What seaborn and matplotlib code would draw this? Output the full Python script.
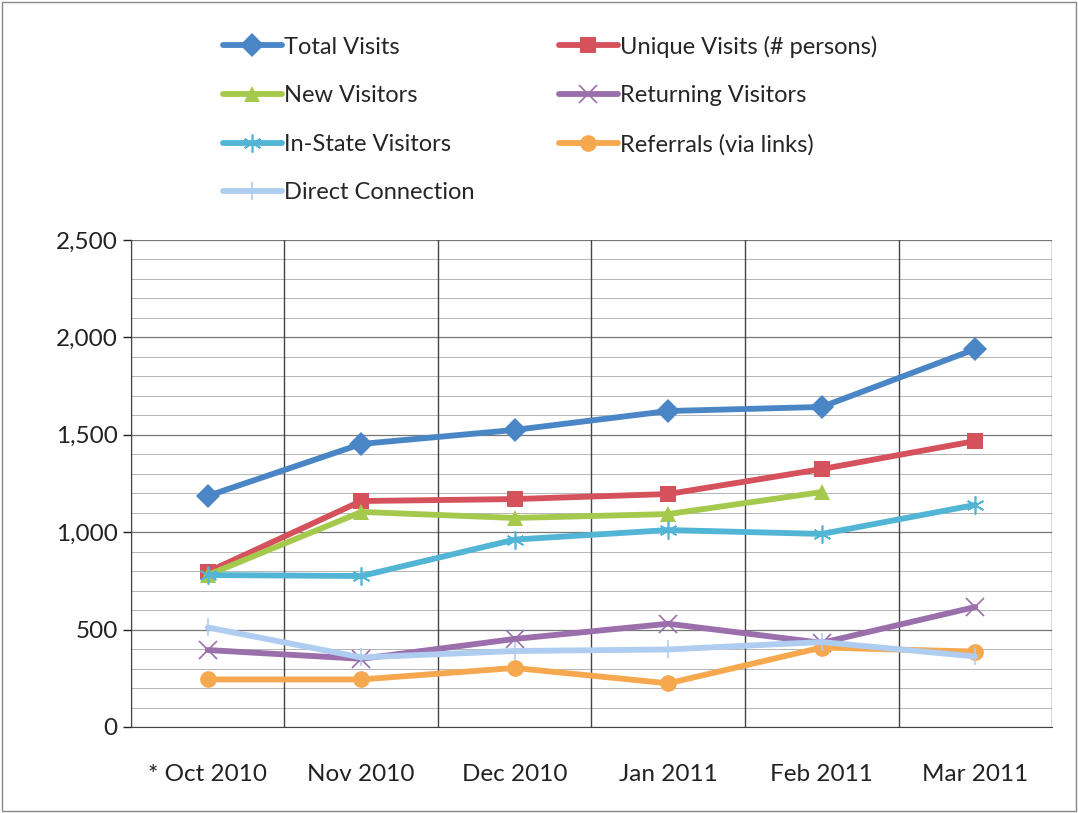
import numpy as np
import pandas as pd
import matplotlib
matplotlib.use("Agg")
import matplotlib.pyplot as plt
import seaborn as sns
from matplotlib.ticker import MultipleLocator, FuncFormatter
from matplotlib.patches import Rectangle

# data
months = ["* Oct 2010", "Nov 2010", "Dec 2010", "Jan 2011", "Feb 2011", "Mar 2011"]
total_visits = [1186, 1453, 1525, 1622, 1643, 1940]
unique_visits = [796, 1160, 1170, 1196, 1324, 1468]
new_visitors = [780, 1104, 1073, 1093, 1206, np.nan]
returning_visitors = [395, 350, 452, 530, 432, 616]
instate_visitors = [780, 775, 962, 1011, 991, 1140]
referrals = [244, 244, 303, 224, 408, 387]
direct_connection = [511, 357, 390, 398, 436, 362]

series = [
    ("Total Visits", total_visits, "#4a86c5", "D"),
    ("Unique Visits (# persons)", unique_visits, "#d5515c", "s"),
    ("New Visitors", new_visitors, "#a4c94c", "^"),
    ("Returning Visitors", returning_visitors, "#9b6eac", "x"),
    ("In-State Visitors", instate_visitors, "#52b5d6", (6, 2, 0)),
    ("Referrals (via links)", referrals, "#f6a84f", "o"),
    ("Direct Connection", direct_connection, "#aecdf0", "|"),
]

sns.set_style("white")
plt.rcParams["font.family"] = ["Lato", "DejaVu Sans"]

fig = plt.figure(figsize=(10.78, 8.13), dpi=100)
ax = fig.add_axes([0.1215, 0.1058, 0.8544, 0.599])

x = np.arange(len(months))
for name, vals, col, mk in series:
    thin = mk in ("x", "|") or isinstance(mk, tuple)
    sns.lineplot(x=x, y=vals, ax=ax, color=col, lw=4.2, marker=mk,
                 markersize=12 if not thin else 13,
                 markeredgewidth=1.2 if thin else 0,
                 markeredgecolor=col, label=name)

ax.set_xlim(-0.5, len(months) - 0.5)
ax.set_ylim(0, 2500)
ax.yaxis.set_major_locator(MultipleLocator(500))
ax.yaxis.set_minor_locator(MultipleLocator(100))
ax.yaxis.set_major_formatter(FuncFormatter(lambda v, p: f"{int(v):,}"))
ax.grid(which="major", axis="y", color="#777777", lw=0.9)
ax.grid(which="minor", axis="y", color="#b5b5b5", lw=0.7)
for b in np.arange(-0.5, len(months), 1.0):
    ax.axvline(b, color="#444444", lw=1.0, zorder=1)
ax.set_axisbelow(True)

ax.set_xticks(x)
ax.set_xticklabels(months)
ax.set_xticks(np.arange(-0.5, len(months), 1.0), minor=True)
ax.tick_params(axis="x", which="major", length=0, pad=27, labelsize=17.5, colors="#222222")
ax.tick_params(axis="x", which="minor", length=10, width=1.0, direction="out", color="#444444")
ax.tick_params(axis="y", which="major", length=6, width=1.0, direction="out", labelsize=17.5,
               colors="#222222", left=True)
ax.tick_params(axis="y", which="minor", length=0)

for s in ["top", "right"]:
    ax.spines[s].set_visible(False)
ax.spines["left"].set_color("#444444")
ax.spines["bottom"].set_color("#444444")

ax.get_legend().remove()
handles, labels = ax.get_legend_handles_labels()
# legend fills row by row in the original: reorder for column-major layout
order = [0, 2, 4, 6, 1, 3, 5]
fig.legend([handles[i] for i in order], [labels[i] for i in order], ncol=2,
           loc="upper left", bbox_to_anchor=(0.198, 0.968),
           frameon=False, fontsize=17, handlelength=2.5, labelspacing=1.17,
           columnspacing=3.55, handletextpad=0.1, borderaxespad=0)

fig.patches.append(Rectangle((0.002, 0.002), 0.996, 0.996, transform=fig.transFigure,
                             fill=False, edgecolor="#888888", lw=1.0))

fig.savefig("out.png", dpi=100)
